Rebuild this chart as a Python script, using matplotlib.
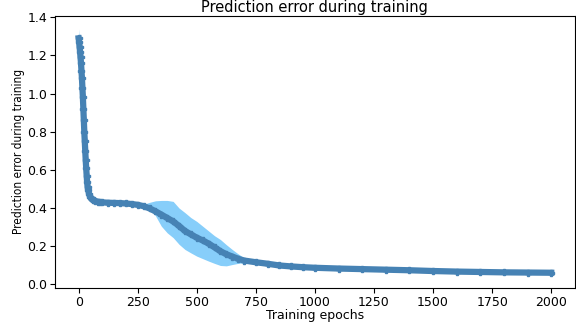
import matplotlib
matplotlib.use('Agg')
import matplotlib.pyplot as plt

# mean prediction error
epochs = [0, 2, 4, 6, 8, 10, 12, 14, 16, 18, 20, 22, 24, 26, 28, 30, 32, 34, 36, 38, 40,
          44, 48, 52, 56, 60, 65, 70, 80, 90, 100, 125, 150, 175, 200, 225, 250, 275,
          300, 325, 350, 375, 400, 425, 450, 475, 500, 525, 550, 575, 600, 625, 650,
          675, 700, 750, 800, 850, 900, 950, 1000, 1100, 1200, 1300, 1400, 1500, 1600,
          1700, 1800, 1900, 2000]
error = [1.29, 1.27, 1.245, 1.22, 1.19, 1.16, 1.12, 1.08, 1.03, 0.98, 0.92, 0.86, 0.80,
         0.75, 0.70, 0.65, 0.61, 0.57, 0.535, 0.51, 0.495, 0.475, 0.46, 0.452, 0.447,
         0.443, 0.44, 0.437, 0.434, 0.432, 0.43, 0.428, 0.427, 0.426, 0.424, 0.421,
         0.417, 0.41, 0.398, 0.383, 0.366, 0.348, 0.33, 0.306, 0.28, 0.262, 0.245,
         0.23, 0.214, 0.194, 0.174, 0.158, 0.146, 0.134, 0.125, 0.116, 0.108, 0.099,
         0.094, 0.09, 0.087, 0.083, 0.08, 0.077, 0.074, 0.07, 0.067, 0.065, 0.063,
         0.062, 0.061]

# spread band
band_epochs = [0, 10, 20, 30, 40, 60, 100, 200, 250, 275, 300, 325, 350, 375, 400, 425,
               450, 475, 500, 525, 550, 575, 600, 625, 650, 675, 700, 750, 800, 900,
               1000, 1200, 1400, 1450, 1500, 1600, 1700, 1800, 1900, 2000]
upper = [1.34, 1.17, 0.93, 0.66, 0.50, 0.447, 0.433, 0.426, 0.42, 0.42, 0.43, 0.438,
         0.44, 0.44, 0.435, 0.40, 0.376, 0.35, 0.33, 0.305, 0.28, 0.255, 0.235, 0.208,
         0.183, 0.16, 0.14, 0.125, 0.112, 0.097, 0.09, 0.083, 0.08, 0.083, 0.08, 0.072,
         0.072, 0.068, 0.068, 0.066]
lower = [1.27, 1.15, 0.91, 0.64, 0.49, 0.44, 0.428, 0.422, 0.414, 0.40, 0.40, 0.36,
         0.305, 0.27, 0.245, 0.21, 0.183, 0.165, 0.148, 0.135, 0.122, 0.11, 0.099,
         0.097, 0.104, 0.11, 0.113, 0.11, 0.104, 0.09, 0.084, 0.077, 0.068, 0.064,
         0.064, 0.062, 0.058, 0.058, 0.055, 0.056]

fig = plt.figure(figsize=(5.76, 3.22), dpi=100)
ax = fig.add_axes([0.0955, 0.1056, 0.9025, 0.8454])

ax.fill_between(band_epochs, lower, upper, color='#87cefa', linewidth=0)
ax.plot(epochs, error, color='#4682b4', lw=4.5, marker='P', markersize=4.5)

ax.set_xlim(-100, 2100)
ax.set_ylim(-0.019, 1.408)
ax.set_xticks([0, 250, 500, 750, 1000, 1250, 1500, 1750, 2000])
ax.set_yticks([0.0, 0.2, 0.4, 0.6, 0.8, 1.0, 1.2, 1.4])
ax.tick_params(labelsize=9, pad=2)

ax.set_title('Prediction error during training', fontsize=10.5, pad=3)
ax.set_xlabel('Training epochs', fontsize=9, labelpad=0)
ax.set_ylabel('Prediction error during training', fontsize=8.5, stretch='condensed', labelpad=2)

fig.savefig('out.png', dpi=100)
